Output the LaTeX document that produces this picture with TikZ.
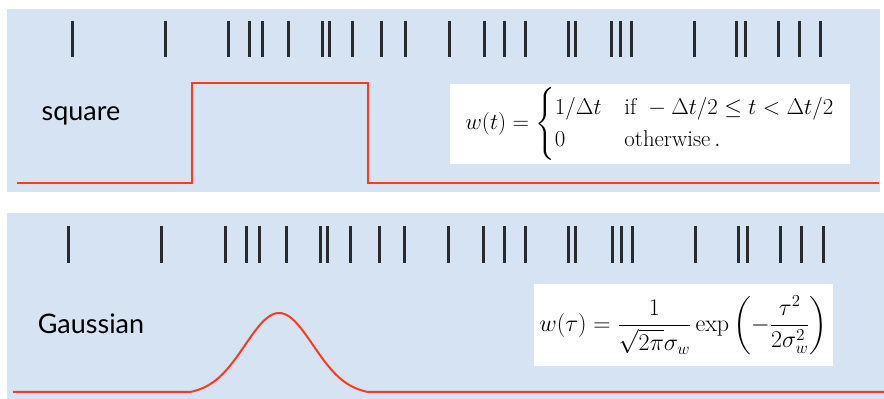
\RequirePackage{fix-cm}
\documentclass[tikz,border=0pt]{standalone}
\usepackage{amsmath}
\usepackage{fontspec}
\usepackage{tikz}
\usepackage{color}
\newfontfamily\labelfont{Lato}
\definecolor{panelblue}{RGB}{214,227,243}
\definecolor{spikered}{RGB}{255,58,28}
\definecolor{spikegray}{RGB}{40,42,46}

\begin{document}
\begin{tikzpicture}[x=0.03cm,y=-0.03cm]
\useasboundingbox (0,0) rectangle (884,399);

% square window
\fill[panelblue] (7,9) rectangle (880,192);
\foreach \s in {72,165,228,249,262,288,322,329,352,381,405,449,484,504,525,568,575,611,620,631,694,736,745,778,799,820}
  \draw[spikegray, line width=0.09cm] (\s,21) -- (\s,57);
\draw[spikered, line width=0.06cm] (17,183) -- (192,183) -- (192,83) -- (368,83) -- (368,183) -- (879,183);
\node[font=\labelfont\fontsize{23}{27}\selectfont] (sqlabel) at (81,116) {square};
\node[fill=white, minimum width=12cm, minimum height=2.04cm, font=\fontsize{19.5}{23}\selectfont] (sqformula) at (650,124)
  {$w(t)=\begin{cases} 1/\Delta t & \text{if } -\Delta t/2 \le t < \Delta t/2\\ 0 & \text{otherwise}\,. \end{cases}$};

% Gaussian window
\fill[panelblue] (7,213) rectangle (884,399);
\foreach \s in {72,165,228,249,262,288,322,329,352,381,405,449,484,504,525,568,575,611,620,631,694,736,745,778,799,820}
  \draw[spikegray, line width=0.09cm] ({1.00936*\s-4.67},226) -- ({1.00936*\s-4.67},263);
\draw[spikered, line width=0.06cm] (13,392) -- (190,392)
  -- plot[domain=190:368, samples=80, smooth] (\x,{392-79*(exp(-((\x-279)/34)^2/2)-0.0324)/0.9676})
  -- (884,392);
\node[font=\labelfont\fontsize{23}{27}\selectfont] (gslabel) at (91,324) {Gaussian};
\node[fill=white, minimum width=8.97cm, minimum height=2.46cm, font=\fontsize{20.5}{24}\selectfont] (gsformula) at (683.5,325)
  {$w(\tau)=\dfrac{1}{\sqrt{2\pi}\sigma_w}\exp\left(-\dfrac{\tau^2}{2\sigma_w^2}\right)$};
\end{tikzpicture}
\end{document}
